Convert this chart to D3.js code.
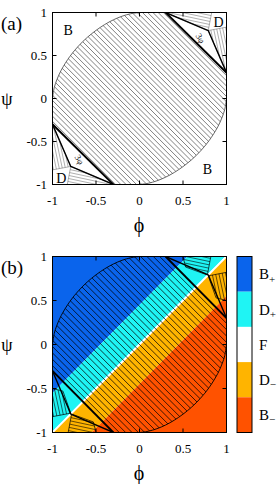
<!DOCTYPE html>
<html><head><meta charset="utf-8">
<script src="https://cdn.jsdelivr.net/npm/d3@7"></script>
<style>body{margin:0;background:#fff} svg{display:block}</style>
</head><body>
<script>
// ---------- data ----------
const phiTicks = [-1, -0.5, 0, 0.5, 1];
const psiTicks = [-1, -0.5, 0, 0.5, 1];
const tickLabels = ["-1", "-0.5", "0", "0.5", "1"];
// boundary of the hatched region, upper-left quadrant, from (-1,0) to (0,1)
const boundaryUL = [[-1,0],[-0.98,0.126],[-0.95,0.218],[-0.9,0.329],[-0.8,0.49],[-0.7,0.612],[-0.6,0.711],[-0.5,0.792],[-0.4,0.86],[-0.3,0.915],[-0.2,0.957],[-0.1,0.986],[0,1]];
const cutA = [0.3, 1];
const cutB = [1, 0.3];
const cornerP = [0.79, 0.79];
const dTopA = [[0.3,1],[0.83,1],[0.79,0.79]];
const dRightA = [[1,0.3],[1,0.83],[0.79,0.79]];
const dTopB = [[0.5,1],[0.82,1],[0.78,0.79],[0.53,0.88]];
const dRightB = [[1,0.5],[1,0.82],[0.79,0.78],[0.88,0.53]];
const phaseNames = ["B", "D", "F", "D", "B"];
const phaseSubs = ["+", "+", "", "\u2212", "\u2212"];
const phaseColors = ["#0a64ec", "#1ff4f4", "#ffffff", "#ffb400", "#ff5200"];
// ranges of (psi - phi) for each phase
const phaseLo = [0.45, 0.015, -0.015, -0.45, -3];
const phaseHi = [3, 0.45, 0.015, -0.015, -0.45];
const labelsA = [{t:"B", p:[-0.82,0.79]}, {t:"B", p:[0.78,-0.82]}, {t:"D", p:[0.91,0.89]}, {t:"D", p:[-0.9,-0.92]}];
const angleLabels = [{t:"3\u03c6", p:[0.7,0.7]}, {t:"3\u03c6", p:[-0.69,-0.71]}];

// ---------- drawing ----------
const W = 279, H = 484;
const FONT = "'Liberation Serif','Times New Roman',serif";
const svg = d3.select("body").append("svg").attr("width", W).attr("height", H);
const defs = svg.append("defs");
const rot = p => [-p[0], -p[1]];
let clipCount = 0;
function makeClip(d) {
  const id = "c" + (clipCount++);
  defs.append("clipPath").attr("id", id).append("path").attr("d", d);
  return `url(#${id})`;
}
function hatchLines(parent, clipUrl, angle, spacing, color, w, box) {
  const a = angle * Math.PI / 180, dx = Math.cos(a), dy = Math.sin(a);
  const nx = -dy, ny = dx;
  const cx = (box[0] + box[2]) / 2, cy = (box[1] + box[3]) / 2;
  const R = Math.hypot(box[2] - box[0], box[3] - box[1]) / 2 + 2;
  const n = Math.ceil(R / spacing);
  const g = parent.append("g").attr("clip-path", clipUrl);
  g.selectAll("line").data(d3.range(-n, n + 1)).join("line")
    .attr("x1", k => cx + nx * k * spacing - dx * R).attr("y1", k => cy + ny * k * spacing - dy * R)
    .attr("x2", k => cx + nx * k * spacing + dx * R).attr("y2", k => cy + ny * k * spacing + dy * R)
    .attr("stroke", color).attr("stroke-width", w);
}

const x = d3.scaleLinear([-1, 1], [52.5, 226.5]);

function drawPanel(top, bottom, isB) {
  const y = d3.scaleLinear([-1, 1], [bottom, top]);
  const g = svg.append("g");
  const box = [x(-1), y(1), x(1), y(-1)];
  const rectClip = makeClip(`M${box[0]},${box[1]}H${box[2]}V${box[3]}H${box[0]}Z`);
  const inner = g.append("g").attr("clip-path", rectClip);
  const poly = pts => "M" + pts.map(p => `${x(p[0])},${y(p[1])}`).join("L") + "Z";

  if (isB) {
    phaseColors.forEach((c, i) => {
      const lo = phaseLo[i], hi = phaseHi[i];
      inner.append("path").attr("fill", c)
        .attr("d", poly([[-4, -4 + lo], [4, 4 + lo], [4, 4 + hi], [-4, -4 + hi]]));
    });
  }

  const curve = d3.line().x(d => x(d[0])).y(d => y(d[1])).curve(d3.curveCatmullRom.alpha(0.5));
  const ul = curve(boundaryUL);
  const lr = curve(boundaryUL.map(rot));
  const L = p => `L${x(p[0])},${y(p[1])}`;
  const region = ul + L(cutA) + L(cutB) + lr.replace(/^M/, "L") + L(rot(cutA)) + L(rot(cutB)) + "Z";
  const lineCol = isB ? "#000" : "#6a6a6a";
  hatchLines(inner, makeClip(region), 45, isB ? 4.5 : 3.7, lineCol, isB ? 0.75 : 0.85, box);
  inner.append("path").attr("d", ul).attr("fill", "none").attr("stroke", isB ? "#000" : "#555").attr("stroke-width", 0.9);
  inner.append("path").attr("d", lr).attr("fill", "none").attr("stroke", isB ? "#000" : "#555").attr("stroke-width", 0.9);

  // D pieces
  const tp = isB ? dTopB : dTopA, rp = isB ? dRightB : dRightA;
  [[tp, 12], [rp, 78], [tp.map(rot), 12], [rp.map(rot), 78]].forEach(([pts, ang]) => {
    const d = poly(pts);
    hatchLines(inner, makeClip(d), ang, isB ? 3.3 : 3.0, isB ? "#000" : "#7a7a7a", 0.6, box);
    inner.append("path").attr("d", d).attr("fill", "none")
      .attr("stroke", isB ? "#000" : "#777").attr("stroke-width", isB ? 0.7 : 0.6)
      .attr("stroke-linejoin", "round");
  });

  // thick lines (corner triangles)
  [1, -1].forEach(s => {
    const A = [cutA[0]*s, cutA[1]*s], B = [cutB[0]*s, cutB[1]*s], P = [cornerP[0]*s, cornerP[1]*s];
    inner.append("path").attr("d", `M${x(A[0])},${y(A[1])}L${x(B[0])},${y(B[1])}`)
      .attr("stroke", "#000").attr("stroke-width", 1.9).attr("fill", "none");
    inner.append("path").attr("d", `M${x(A[0])},${y(A[1])}L${x(P[0])},${y(P[1])}L${x(B[0])},${y(B[1])}`)
      .attr("stroke", "#000").attr("stroke-width", 1.4).attr("fill", "none").attr("stroke-linejoin", "round");
  });

  if (!isB) {
    labelsA.forEach(l => {
      g.append("text").attr("x", x(l.p[0])).attr("y", y(l.p[1])).attr("dy", "0.35em")
        .attr("text-anchor", "middle").attr("font-family", FONT).attr("font-size", 14).text(l.t);
    });
    angleLabels.forEach(l => {
      g.append("text").attr("transform", `translate(${x(l.p[0])},${y(l.p[1])}) rotate(58)`)
        .attr("dy", "0.35em").attr("text-anchor", "middle").attr("font-family", FONT)
        .attr("font-size", 9).attr("fill", "#111").text(l.t);
    });
  }

  // frame and ticks
  g.append("rect").attr("x", x(-1)).attr("y", y(1)).attr("width", x(1) - x(-1)).attr("height", y(-1) - y(1))
    .attr("fill", "none").attr("stroke", "#000").attr("stroke-width", 1);
  const tl = 4;
  phiTicks.forEach(v => {
    g.append("line").attr("x1", x(v)).attr("x2", x(v)).attr("y1", y(-1)).attr("y2", y(-1) - tl).attr("stroke", "#000");
    g.append("line").attr("x1", x(v)).attr("x2", x(v)).attr("y1", y(1)).attr("y2", y(1) + tl).attr("stroke", "#000");
  });
  psiTicks.forEach(v => {
    g.append("line").attr("y1", y(v)).attr("y2", y(v)).attr("x1", x(-1)).attr("x2", x(-1) + tl).attr("stroke", "#000");
    g.append("line").attr("y1", y(v)).attr("y2", y(v)).attr("x1", x(1)).attr("x2", x(1) - tl).attr("stroke", "#000");
  });
  phiTicks.forEach((v, i) => {
    g.append("text").attr("x", x(v)).attr("y", y(-1) + 20).attr("text-anchor", "middle")
      .attr("font-family", FONT).attr("font-size", 13).text(tickLabels[i]);
  });
  psiTicks.forEach((v, i) => {
    g.append("text").attr("x", 47).attr("y", y(v)).attr("dy", "0.35em").attr("text-anchor", "end")
      .attr("font-family", FONT).attr("font-size", 13).text(tickLabels[i]);
  });
  // axis titles
  g.append("text").attr("x", 139).attr("y", y(-1) + 47).attr("text-anchor", "middle")
    .attr("font-family", FONT).attr("font-size", 20).text("\u03d5");
  g.append("text").attr("x", 7).attr("y", y(0)).attr("dy", "0.35em").attr("text-anchor", "middle")
    .attr("font-family", FONT).attr("font-size", 18).text("\u03c8");
  g.append("text").attr("x", 1).attr("y", y(1) + 17).attr("font-family", FONT).attr("font-size", 19)
    .text(isB ? "(b)" : "(a)");

  if (isB) {
    const cb = d3.scaleBand().domain(d3.range(phaseNames.length)).range([top, bottom]);
    phaseColors.forEach((c, i) => {
      g.append("rect").attr("x", 237).attr("y", cb(i)).attr("width", 15).attr("height", cb.bandwidth()).attr("fill", c);
      const t = g.append("text").attr("x", 259).attr("y", cb(i) + cb.bandwidth()/2).attr("dy", "0.35em")
        .attr("font-family", FONT).attr("font-size", 15).text(phaseNames[i]);
      if (phaseSubs[i]) t.append("tspan").attr("font-size", 11).attr("dy", "0.3em").text(phaseSubs[i]);
    });
    g.append("rect").attr("x", 237).attr("y", top).attr("width", 15).attr("height", bottom - top)
      .attr("fill", "none").attr("stroke", "#000").attr("stroke-width", 1);
  }
}

drawPanel(12.5, 184.5, false);
drawPanel(256.5, 432.5, true);
</script>
</body></html>
